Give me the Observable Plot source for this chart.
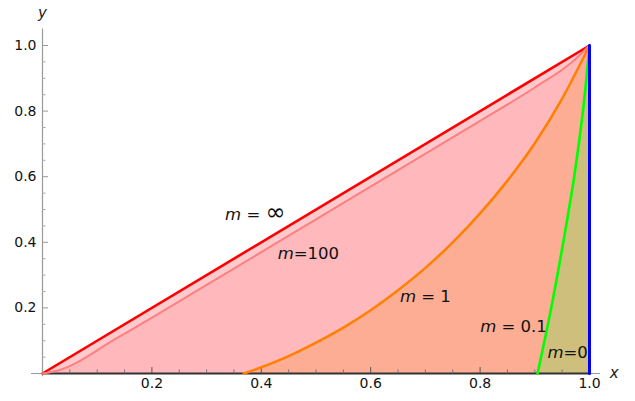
<!DOCTYPE html>
<html><head><meta charset="utf-8">
<script src="https://cdn.jsdelivr.net/npm/d3@7"></script>
<script src="https://cdn.jsdelivr.net/npm/@observablehq/plot@0.6"></script>
<style>
body{margin:0;background:#fff}
g[aria-label="x-axis tick label"] text, g[aria-label="y-axis tick label"] text {font-size:14px !important; font-family:"DejaVu Sans" !important;}
</style>
</head><body><div id="chart"></div>
<script>
// m = ∞ curve
const infX = [0, 1];
const infY = [0, 1];
// m = 100 curve
const m100X = [0, 0.03, 0.135, 0.313, 0.5, 0.618, 0.8, 0.9, 0.97, 1];
const m100Y = [0, 0.010, 0.107, 0.283, 0.470, 0.588, 0.770, 0.872, 0.952, 1];
// m = 1 curve
const m1X = [0.368, 0.40, 0.45, 0.50, 0.55, 0.60, 0.65, 0.70, 0.75, 0.80, 0.85, 0.90, 0.95, 1];
const m1Y = [0, 0.019, 0.053, 0.094, 0.140, 0.193, 0.254, 0.322, 0.400, 0.488, 0.588, 0.702, 0.838, 1];
// m = 0.1 curve
const m01X = [0.905, 0.930, 0.952, 0.972, 0.988, 1];
const m01Y = [0, 0.2, 0.4, 0.6, 0.8, 1];
// m = 0 curve
const m0X = [1, 1];
const m0Y = [0, 1];
// labels
const labelText = ["m = ∞", "m=100", "m = 1", "m = 0.1", "m=0"];
const labelX = [0.389, 0.486, 0.700, 0.861, 0.960];
const labelY = [0.485, 0.366, 0.235, 0.143, 0.064];
// ticks
const majorTicks = [0.2, 0.4, 0.6, 0.8, 1.0];
const minorTicks = [0.05,0.1,0.15,0.25,0.3,0.35,0.45,0.5,0.55,0.65,0.7,0.75,0.85,0.9,0.95];

const pts = (xs, ys) => xs.map((x, i) => ({x, y: ys[i]}));
const inf = pts(infX, infY), m100 = pts(m100X, m100Y), m1 = pts(m1X, m1Y), m01 = pts(m01X, m01Y), m0 = pts(m0X, m0Y);
const labels = labelText.map((t, i) => ({t, x: labelX[i], y: labelY[i]}));

const tx = 0.011, ty = 0.018, mx = 0.0065, my = 0.011;

const chart = Plot.plot({
  width: 635, height: 401,
  marginLeft: 42, marginRight: 46, marginTop: 45, marginBottom: 28,
  x: {domain: [0, 1]}, y: {domain: [0, 1]},
  style: {fontFamily: "DejaVu Sans", fontSize: "13px", background: "white", overflow: "visible"},
  marks: [
    Plot.areaY(inf, {x: "x", y: "y", fill: "#FFCACD"}),
    Plot.areaY(m100, {x: "x", y: "y", fill: "#FFB8BC", curve: "monotone-x"}),
    Plot.areaY(m1, {x: "x", y: "y", fill: "#FCAD93", curve: "monotone-x"}),
    Plot.areaY(m01, {x: "x", y: "y", fill: "#CFBF7C"}),
    // axes lines
    Plot.ruleY([0], {x1: -0.02, x2: 1.02, stroke: "#999", strokeWidth: 1}),
    Plot.ruleY([0], {x1: 0, x2: 1, stroke: "#333", strokeWidth: 2}),
    Plot.ruleX([0], {y1: -0.01, y2: 1.05, stroke: "#999", strokeWidth: 1.2}),
    // ticks
    Plot.ruleX(majorTicks, {y1: 0, y2: ty, stroke: "#555"}),
    Plot.ruleX(minorTicks, {y1: 0, y2: my, stroke: "#777"}),
    Plot.ruleY(majorTicks, {x1: 0, x2: tx, stroke: "#999"}),
    Plot.ruleY(minorTicks, {x1: 0, x2: mx, stroke: "#aaa"}),
    Plot.axisX(majorTicks, {tickSize: 0, tickPadding: 5, tickFormat: d => d.toFixed(1), label: null, fill: "#111"}),
    Plot.axisY(majorTicks, {tickSize: 0, tickPadding: 6, tickFormat: d => d.toFixed(1), label: null, fill: "#111"}),
    // curves
    Plot.line(inf, {x: "x", y: "y", stroke: "#FF0000", strokeWidth: 2.6}),
    Plot.line(m100, {x: "x", y: "y", stroke: "#FF7F7F", strokeWidth: 2, curve: "monotone-x"}),
    Plot.line(m1, {x: "x", y: "y", stroke: "#FF8000", strokeWidth: 2.5, curve: "monotone-x"}),
    Plot.line(m01, {x: "x", y: "y", stroke: "#00FF00", strokeWidth: 2.6, curve: "monotone-y"}),
    Plot.line(m0, {x: "x", y: "y", stroke: "#0000FF", strokeWidth: 3}),
    // labels
    Plot.text(labels, {x: "x", y: "y", text: "t", fontSize: 16.5, fill: "#111"}),
    Plot.text(["x"], {x: 1.045, y: 0, text: d => d, fontSize: 15, fontStyle: "italic", fill: "#222"}),
    Plot.text(["y"], {x: 0, y: 1.1, text: d => d, fontSize: 15, fontStyle: "italic", fill: "#222"})
  ]
});
document.getElementById("chart").appendChild(chart);
// italic m and larger infinity
chart.querySelectorAll("text").forEach(el => {
  const s = el.textContent;
  if (/^m\s?=/.test(s)) {
    const rest = s.slice(1);
    el.textContent = "";
    const ns = "http://www.w3.org/2000/svg";
    const a = document.createElementNS(ns, "tspan");
    a.setAttribute("font-style", "italic");
    a.textContent = "m";
    el.appendChild(a);
    if (rest.includes("∞")) {
      const b = document.createElementNS(ns, "tspan");
      b.textContent = rest.replace("∞", "");
      el.appendChild(b);
      const c = document.createElementNS(ns, "tspan");
      c.setAttribute("font-size", "24");
      c.textContent = "∞";
      el.appendChild(c);
    } else {
      const b = document.createElementNS(ns, "tspan");
      b.textContent = rest;
      el.appendChild(b);
    }
  }
});
</script></body></html>
